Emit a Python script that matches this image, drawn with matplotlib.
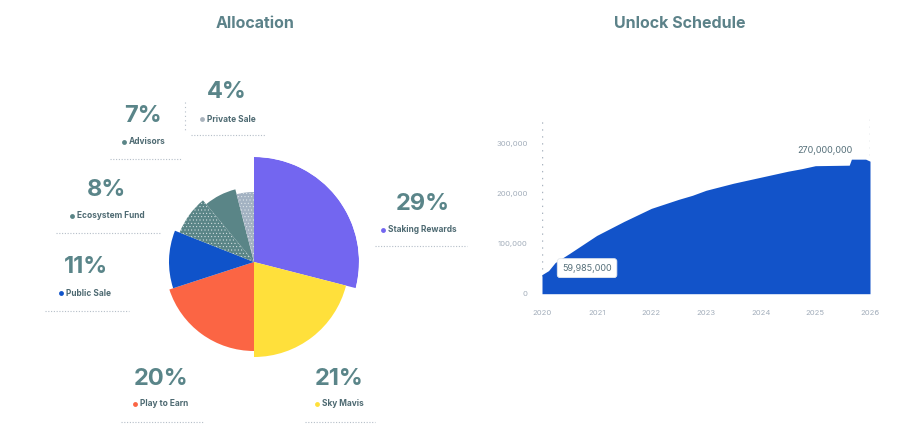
import matplotlib.pyplot as plt
from matplotlib.ticker import FuncFormatter
import numpy as np

plt.rcParams['font.family'] = ['Inter', 'DejaVu Sans']
plt.rcParams['hatch.linewidth'] = 0.3

# allocation data
names = ['Staking Rewards', 'Sky Mavis', 'Play to Earn', 'Public Sale',
         'Ecosystem Fund', 'Advisors', 'Private Sale']
shares = [29, 21, 20, 11, 8, 7, 4]

# unlock schedule data
years = [2020.0, 2020.12, 2020.24, 2020.5, 2021.0, 2021.5, 2022.0, 2022.25,
         2022.5, 2022.75, 2023.0, 2023.25, 2023.5, 2023.75, 2024.0, 2024.25,
         2024.5, 2024.75, 2025.0, 2025.62, 2025.66, 2025.92, 2026.0]
unlocked = [38000, 46000, 62000, 80000, 116000, 144000, 170000, 179000,
            188000, 196000, 206000, 213000, 220000, 226000, 232000, 238000,
            244000, 249000, 255000, 256000, 268000, 268000, 264000]
xticks = [2020, 2021, 2022, 2023, 2024, 2025, 2026]
yticks = [0, 100000, 200000, 300000]
first_label = '59,985,000'
last_label = '270,000,000'

# styling
colors = ['#7366f0', '#ffe03b', '#fb6544', '#0f53ca', '#5a8587', '#5a8587', '#a3b2c2']
dot_colors = ['#7366f0', '#ffe03b', '#fb6544', '#0f53ca', '#5a8587', '#5a8587', '#a9b3bd']
hatches = [None, None, None, None, '.....', None, '.....']
radii = [105, 95, 89, 85, 80, 75, 70]
# percent x, percent y, dot x, name y, line x0, line x1, line y  (pixels)
label_pos = [
    (423, 204, 383, 230, 375, 467, 246),
    (339, 379, 317, 404, 305, 375, 422),
    (161, 379, 135, 404, 121, 203, 422),
    (86, 267, 61, 293, 45, 129, 311),
    (107, 190, 72, 216, 56, 160, 233),
    (143, 116, 124, 142, 110, 181, 159),
    (227, 92, 202, 119, 191, 265, 135),
]
title_color = '#5c8289'
pct_color = '#5a8589'
name_color = '#4e6a72'
grey = '#aab4c0'
W, H = 897, 441

fig = plt.figure(figsize=(W / 100, H / 100), dpi=100)

# pie with varying radius on polar axes
ax_pie = fig.add_axes([149 / W, (H - 367) / H, 210 / W, 210 / H], projection='polar')
ax_pie.set_theta_zero_location('N')
ax_pie.set_theta_direction(-1)
ax_pie.set_ylim(0, 105)
ax_pie.axis('off')
starts = np.cumsum([0] + shares[:-1]) / 100 * 2 * np.pi
widths = np.array(shares) / 100 * 2 * np.pi
for s, w, r, c, h in zip(starts, widths, radii, colors, hatches):
    ax_pie.bar(s, r, width=w, align='edge', color=c, hatch=h,
               edgecolor='#e8eef0' if h else c, linewidth=0)

# unlock schedule area chart
ax = fig.add_axes([542 / W, 147.3 / H, 328 / W, 175.7 / H])
ax.fill_between(years, unlocked, color='#1253c9', lw=0, zorder=2)
ax.set_xlim(2020, 2026)
ax.set_ylim(0, 350000)
ax.set_xticks(xticks)
ax.set_yticks(yticks)
ax.yaxis.set_major_formatter(FuncFormatter(lambda v, p: f'{int(v):,}'))
for sp in ax.spines.values():
    sp.set_visible(False)
ax.tick_params(axis='both', length=0, labelsize=5.5, colors='#a3aebb')
ax.tick_params(axis='y', pad=10.5)
ax.tick_params(axis='x', pad=12)
ax.axvline(2020, ymin=0.1, color=grey, ls=(0, (1, 4)), lw=1, zorder=1)
ax.axvline(2026, color=grey, ls=(0, (1, 4)), lw=1, zorder=1)

ax.annotate(first_label, xy=(years[2], unlocked[2]), xytext=(23, -4),
            textcoords='offset points', ha='center', va='center',
            fontsize=6.5, color='#56707a', zorder=5,
            bbox=dict(boxstyle='round,pad=0.55,rounding_size=0.3',
                      fc='white', ec='#e3e7ec', lw=0.6))
ax.annotate(last_label, xy=(years[21], unlocked[21]), xytext=(-29.5, 6),
            textcoords='offset points', ha='center', va='center',
            fontsize=6.5, color='#56707a', zorder=5,
            bbox=dict(boxstyle='round,pad=0.4', fc='white', ec='none'))

# overlay for titles and labels in pixel coordinates
ov = fig.add_axes([0, 0, 1, 1])
ov.set_xlim(0, W)
ov.set_ylim(H, 0)
ov.axis('off')

ov.text(255, 23, 'Allocation', ha='center', va='center', fontsize=11.5,
        fontweight='bold', color=title_color)
ov.text(680, 23, 'Unlock Schedule', ha='center', va='center', fontsize=11.5,
        fontweight='bold', color=title_color)

for name, share, dc, (px, py, dx, ny, lx0, lx1, ly) in zip(names, shares, dot_colors, label_pos):
    ov.text(px, py, f'{share}%', ha='center', va='center', fontsize=17,
            fontweight='bold', color=pct_color)
    ov.plot(dx, ny, 'o', ms=3.5, color=dc, mew=0)
    ov.text(dx + 5, ny, name, ha='left', va='center', fontsize=6,
            fontweight='bold', color=name_color)
    ov.plot([lx0, lx1], [ly, ly], color='#b5bec8', ls=(0, (1, 1.5)), lw=0.8)
ov.plot([185, 185], [102, 130], color='#b5bec8', ls=(0, (1, 3)), lw=0.8)

fig.savefig('out.png', dpi=100)
